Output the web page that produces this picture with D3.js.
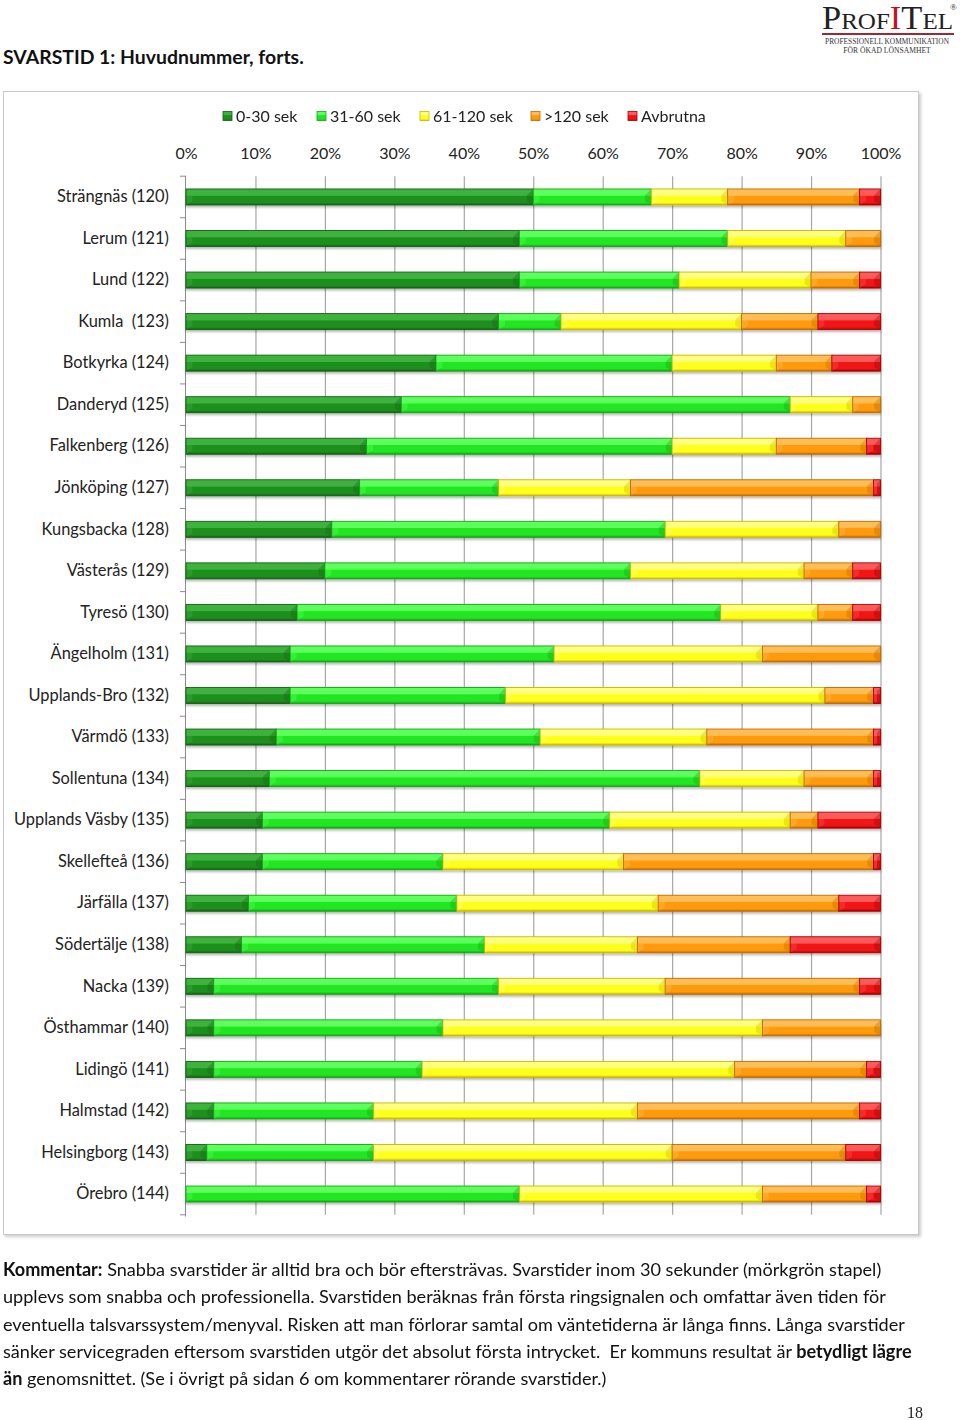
<!DOCTYPE html>
<html>
<head>
<meta charset="utf-8">
<script src="https://cdn.jsdelivr.net/npm/d3@7"></script>
<style>
  html, body { margin: 0; padding: 0; background: #fff; }
  svg { display: block; }
  text { font-family: Lato, "Open Sans", sans-serif; }
</style>
</head>
<body>
<svg id="chart" width="960" height="1420"></svg>
<script>
const categories = ["Strängnäs (120)", "Lerum (121)", "Lund (122)", "Kumla  (123)", "Botkyrka (124)",
  "Danderyd (125)", "Falkenberg (126)", "Jönköping (127)", "Kungsbacka (128)", "Västerås (129)",
  "Tyresö (130)", "Ängelholm (131)", "Upplands-Bro (132)", "Värmdö (133)", "Sollentuna (134)",
  "Upplands Väsby (135)", "Skellefteå (136)", "Järfälla (137)", "Södertälje (138)", "Nacka (139)",
  "Östhammar (140)", "Lidingö (141)", "Halmstad (142)", "Helsingborg (143)", "Örebro (144)"];

const seriesNames = ["0-30 sek", "31-60 sek", "61-120 sek", ">120 sek", "Avbrutna"];

const s0_30   = [50,48,48,45,36,31,26,25,21,20,16,15,15,13,12,11,11, 9, 8, 4, 4, 4, 4, 3, 0];
const s31_60  = [17,30,23, 9,34,56,44,20,48,44,61,38,31,38,62,50,26,30,35,41,33,30,23,24,48];
const s61_120 = [11,17,19,26,15, 9,15,19,25,25,14,30,46,24,15,26,26,29,22,24,46,45,38,43,35];
const s120    = [19, 5, 7,11, 8, 4,13,35, 6, 7, 5,17, 7,24,10, 4,36,26,22,28,17,19,32,25,15];
const avbrutna= [ 3, 0, 3, 9, 7, 0, 2, 1, 0, 4, 4, 0, 1, 1, 1, 9, 1, 6,13, 3, 0, 2, 3, 5, 2];

const tickValues = [0,10,20,30,40,50,60,70,80,90,100];

const commentLines = [
  [["Kommentar:", true], [" Snabba svarstider är alltid bra och bör eftersträvas. Svarstider inom 30 sekunder (mörkgrön stapel)", false]],
  [["upplevs som snabba och professionella. Svarstiden beräknas från första ringsignalen och omfattar även tiden för", false]],
  [["eventuella talsvarssystem/menyval. Risken att man förlorar samtal om väntetiderna är långa finns. Långa svarstider", false]],
  [["sänker servicegraden eftersom svarstiden utgör det absolut första intrycket.  Er kommuns resultat är ", false], ["betydligt lägre", true]],
  [["än", true], [" genomsnittet. (Se i övrigt på sidan 6 om kommentarer rörande svarstider.)", false]]
];

(function(){
const colors = [
  {base:"#1f8f1f", light:"#3cb33c", dark:"#136013"},
  {base:"#22e622", light:"#5cff5c", dark:"#17a317"},
  {base:"#ffff1a", light:"#ffff80", dark:"#c9b800"},
  {base:"#ff9a0a", light:"#ffbd55", dark:"#c06a00"},
  {base:"#f01414", light:"#ff5a5a", dark:"#a80000"}
];

const svg = d3.select("#chart");
const defs = svg.append("defs");
const f = defs.append("filter").attr("id","shadow").attr("x","-5%").attr("y","-50%").attr("width","110%").attr("height","250%");
f.append("feDropShadow").attr("dx",0).attr("dy",2).attr("stdDeviation",1.2).attr("flood-color","#000").attr("flood-opacity",0.28);
const fb = defs.append("filter").attr("id","frameShadow").attr("x","-2%").attr("y","-2%").attr("width","104%").attr("height","104%");
fb.append("feDropShadow").attr("dx",2).attr("dy",2).attr("stdDeviation",1.5).attr("flood-color","#000").attr("flood-opacity",0.2);

colors.forEach((c,i)=>{
  const g = defs.append("linearGradient").attr("id","g"+i).attr("x1",0).attr("y1",0).attr("x2",0).attr("y2",1);
  g.append("stop").attr("offset","0%").attr("stop-color",c.light);
  g.append("stop").attr("offset","40%").attr("stop-color",c.light);
  g.append("stop").attr("offset","45%").attr("stop-color",c.base);
  g.append("stop").attr("offset","85%").attr("stop-color",c.base);
  g.append("stop").attr("offset","100%").attr("stop-color",c.dark);
});

// Title
svg.append("text").attr("x",3).attr("y",64).attr("font-size",19.4).attr("font-weight","bold")
  .attr("fill","#111").text("SVARSTID 1: Huvudnummer, forts.");

// Logo
const logo = svg.append("g");
const lt = logo.append("text").attr("x",822).attr("y",29).attr("fill","#222")
  .style("font-family","'Liberation Serif', 'DejaVu Serif', serif")
  .attr("textLength",131).attr("lengthAdjust","spacingAndGlyphs");
lt.append("tspan").attr("font-size",33).text("P");
lt.append("tspan").attr("font-size",24).text("ROF");
lt.append("tspan").attr("font-size",33).attr("fill","#c0141e").text("I");
lt.append("tspan").attr("font-size",33).text("T");
lt.append("tspan").attr("font-size",24).text("EL");
logo.append("text").attr("x",950).attr("y",10).attr("font-size",9).attr("fill","#222")
  .style("font-family","'Liberation Serif', serif").text("®");
logo.append("line").attr("x1",822).attr("x2",954).attr("y1",34).attr("y2",34).attr("stroke","#9c2a36").attr("stroke-width",2);
logo.append("text").attr("x",887).attr("y",44).attr("text-anchor","middle").attr("font-size",7.4).attr("fill","#333")
  .style("font-family","'Liberation Serif', serif")
  .text("PROFESSIONELL KOMMUNIKATION");
logo.append("text").attr("x",887).attr("y",52.5).attr("text-anchor","middle").attr("font-size",7.6).attr("fill","#333")
  .style("font-family","'Liberation Serif', serif")
  .text("FÖR ÖKAD LÖNSAMHET");

// Chart frame
svg.append("rect").attr("x",3.5).attr("y",91.5).attr("width",915).attr("height",1143)
  .attr("fill","#fff").attr("stroke","#c8c8c8").attr("stroke-width",1).attr("filter","url(#frameShadow)");

// Scales
const x = d3.scaleLinear().domain([0,100]).range([186, 880.5]);
const y = d3.scaleBand().domain(categories).range([176.2, 1214.8]).paddingInner(0.615).paddingOuter(0.3075);

// Gridlines
const grid = svg.append("g").attr("transform","translate(0,176.2)")
  .call(d3.axisBottom(x).tickValues(tickValues.slice(1)).tickSize(1214.8-176.2).tickFormat(""));
grid.select(".domain").remove();
grid.selectAll("line").attr("stroke","#a6a6a6").attr("stroke-width",1.2);

// Top axis labels
const topAxis = svg.append("g").attr("transform","translate(0,159)")
  .call(d3.axisTop(x).tickValues(tickValues).tickSize(0).tickPadding(0).tickFormat(d=>d+"%"));
topAxis.select(".domain").remove();
topAxis.selectAll("text").attr("font-size",16).attr("fill","#222").style("font-family","Lato, sans-serif");

// Left axis
const leftAxis = svg.append("g").attr("transform","translate(186,0)")
  .call(d3.axisLeft(y).tickSize(0).tickPadding(17));
leftAxis.select(".domain").remove();
leftAxis.selectAll("text").attr("font-size",16.4).attr("fill","#222").style("font-family","Lato, sans-serif").style("white-space","pre");
leftAxis.append("line").attr("x1",-0.5).attr("x2",-0.5).attr("y1",176.2).attr("y2",1216.5).attr("stroke","#8c8c8c");
const step = y.step();
d3.range(categories.length+1).forEach(i=>{
  const yy = 176.2 + i*step;
  leftAxis.append("line").attr("x1",-6).attr("x2",0).attr("y1",yy).attr("y2",yy).attr("stroke","#8c8c8c");
});

// Stacked data
const table = categories.map((c,i)=>({cat:c, s0:s0_30[i], s1:s31_60[i], s2:s61_120[i], s3:s120[i], s4:avbrutna[i]}));
const stack = d3.stack().keys(["s0","s1","s2","s3","s4"])(table);

const bars = svg.append("g").attr("filter","url(#shadow)");
stack.forEach((layer,si)=>{
  const c = colors[si];
  layer.forEach(d=>{
    const x0 = x(d[0]), x1 = x(d[1]);
    if (x1 - x0 < 0.5) return;
    const y0 = y(d.data.cat), h = y.bandwidth();
    const g = bars.append("g");
    g.append("rect").attr("x",x0).attr("y",y0).attr("width",x1-x0).attr("height",h)
      .attr("fill",`url(#g${si})`).attr("stroke",c.dark).attr("stroke-width",0.9);
    const k = Math.min(h*0.4, (x1-x0)/2);
    g.append("polygon").attr("points",
      `${x1-0.5},${y0+0.5} ${x1-0.5},${y0+h-0.5} ${x1-k},${y0+h-k*0.6} ${x1-k},${y0+k}`)
      .attr("fill",c.dark).attr("opacity",0.35);
    g.append("polygon").attr("points",
      `${x0+0.5},${y0+0.5} ${x0+0.5},${y0+h-0.5} ${x0+k},${y0+h-k*0.6} ${x0+k},${y0+k}`)
      .attr("fill",c.light).attr("opacity",0.35);
  });
});

// Legend
const legendX = [223, 317, 420, 531, 628];
const leg = svg.append("g");
seriesNames.forEach((n,i)=>{
  const c = colors[i];
  leg.append("rect").attr("x",legendX[i]).attr("y",111.5).attr("width",9).attr("height",9)
    .attr("fill",`url(#g${i})`).attr("stroke",c.dark).attr("stroke-width",0.8);
  leg.append("text").attr("x",legendX[i]+13).attr("y",122).attr("font-size",16).attr("fill","#222").text(n);
});

// Comment
commentLines.forEach((line,i)=>{
  const t = svg.append("text").attr("x",3).attr("y",1276 + i*27.3).attr("font-size",18.1).attr("fill","#111")
    .style("white-space","pre");
  line.forEach(([s,b])=>{
    t.append("tspan").attr("font-weight", b ? "bold" : "normal").text(s);
  });
});

// Page number
svg.append("text").attr("x",923).attr("y",1418).attr("text-anchor","end").attr("font-size",16)
  .style("font-family","'Liberation Serif', serif").attr("fill","#222").text("18");
})();
</script>
</body>
</html>
